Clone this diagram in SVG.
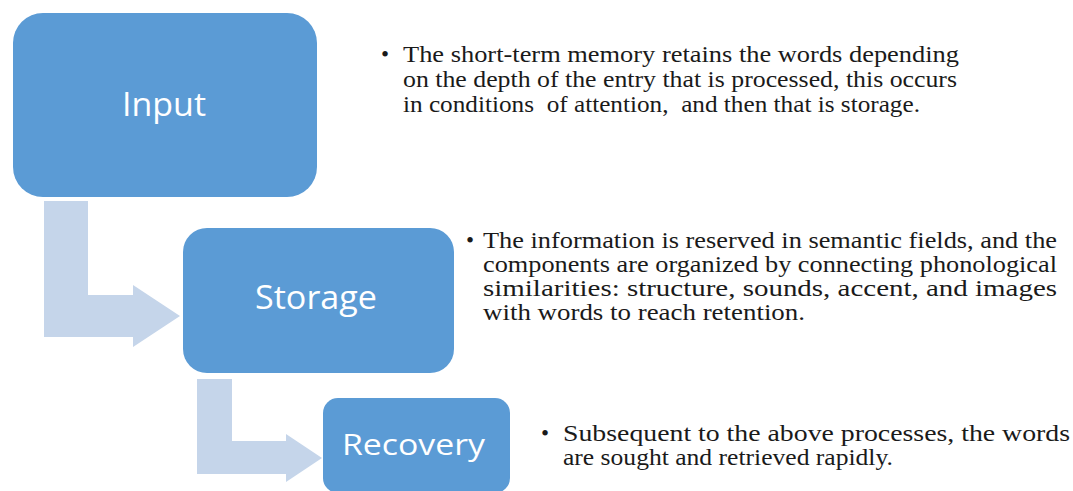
<svg xmlns="http://www.w3.org/2000/svg" width="1073" height="491" viewBox="0 0 1073 491">
<style>
.box{fill:#5b9bd5;}
.arrow{fill:#c5d5ea;}
.lbl{font-family:"Open Sans","DejaVu Sans",sans-serif;fill:#ffffff;text-anchor:middle;}
.body{font-family:"Liberation Serif","Times New Roman",serif;font-size:23px;fill:#1a1a1a;}
</style>
<rect width="1073" height="491" fill="#ffffff"/>
<g id="connectors">
<polygon class="arrow" points="44,201 88,201 88,295 133,295 133,285 180,316 133,347 133,337 44,337"/>
<polygon class="arrow" points="197,379 232,379 232,441 286,441 286,434 322,458 286,482 286,474 197,474"/>
</g>
<g id="node-input">
<rect class="box" x="13" y="13" width="304" height="184" rx="30" ry="30"/>
<text class="lbl" x="164" y="116" font-size="33" textLength="84" lengthAdjust="spacingAndGlyphs">Input</text>
</g>
<g id="node-storage">
<rect class="box" x="183" y="228" width="271" height="145" rx="24" ry="24"/>
<text class="lbl" x="316" y="309" font-size="32" textLength="122" lengthAdjust="spacingAndGlyphs">Storage</text>
</g>
<g id="node-recovery">
<rect class="box" x="323" y="398" width="187" height="95" rx="15" ry="15"/>
<text class="lbl" x="413.5" y="455" font-size="30" textLength="143" lengthAdjust="spacingAndGlyphs">Recovery</text>
</g>
<g id="note-input">
<text class="body" x="381" y="62">•</text>
<text class="body" x="403" y="62" textLength="556" lengthAdjust="spacingAndGlyphs">The short-term memory retains the words depending</text>
<text class="body" x="403" y="87" textLength="554" lengthAdjust="spacingAndGlyphs">on the depth of the entry that is processed, this occurs</text>
<text class="body" x="403" y="112" textLength="517" lengthAdjust="spacingAndGlyphs" xml:space="preserve">in conditions  of attention,  and then that is storage.</text>
</g>
<g id="note-storage">
<text class="body" x="466" y="248">•</text>
<text class="body" x="483" y="248" textLength="574" lengthAdjust="spacingAndGlyphs">The information is reserved in semantic fields, and the</text>
<text class="body" x="483" y="272" textLength="574" lengthAdjust="spacingAndGlyphs">components are organized by connecting phonological</text>
<text class="body" x="483" y="296" textLength="574" lengthAdjust="spacingAndGlyphs">similarities: structure, sounds, accent, and images</text>
<text class="body" x="483" y="320" textLength="322" lengthAdjust="spacingAndGlyphs">with words to reach retention.</text>
</g>
<g id="note-recovery">
<text class="body" x="541" y="441">•</text>
<text class="body" x="563" y="441" textLength="507" lengthAdjust="spacingAndGlyphs">Subsequent to the above processes, the words</text>
<text class="body" x="563" y="465" textLength="330" lengthAdjust="spacingAndGlyphs">are sought and retrieved rapidly.</text>
</g>
</svg>
